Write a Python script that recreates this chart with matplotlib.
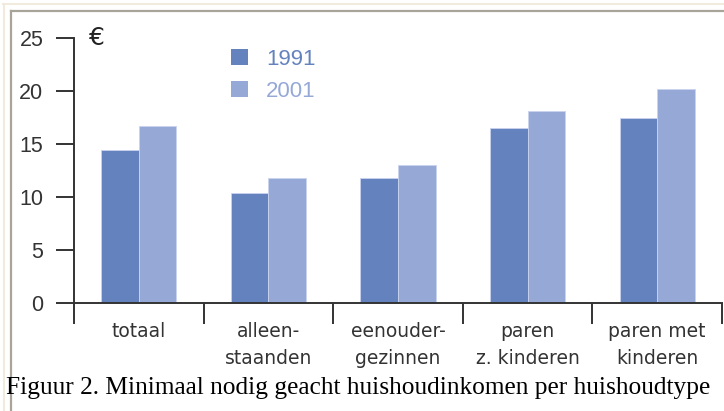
import matplotlib
matplotlib.use("Agg")
import matplotlib.pyplot as plt
from matplotlib.lines import Line2D
import numpy as np

categories = ["totaal", "alleen-\nstaanden", "eenouder-\ngezinnen", "paren\nz. kinderen", "paren met\nkinderen"]
values_1991 = [14.4, 10.4, 11.8, 16.5, 17.4]
values_2001 = [16.7, 11.8, 13.0, 18.1, 20.2]
series_names = ["1991", "2001"]
yticks = [0, 5, 10, 15, 20, 25]
caption = "Figuur 2. Minimaal nodig geacht huishoudinkomen per huishoudtype"

c1991 = "#6482be"
c2001 = "#95a8d6"
edge = "#c9d3ee"
dark = "#333333"

fig = plt.figure(figsize=(7.24, 4.11), dpi=100)
fig.patch.set_facecolor("white")

# frame lines (top and left only)
fig.add_artist(Line2D([0.004, 1.0], [1 - 4.5/411, 1 - 4.5/411], transform=fig.transFigure, color="#f0ebdc", lw=1.5))
fig.add_artist(Line2D([0.0055, 0.0055], [0, 1 - 4.5/411], transform=fig.transFigure, color="#f0ebdc", lw=1.5))
fig.add_artist(Line2D([11/724, 1.0], [1 - 11/411, 1 - 11/411], transform=fig.transFigure, color="#a8a49a", lw=1.6))
fig.add_artist(Line2D([11/724, 11/724], [0, 1 - 11/411], transform=fig.transFigure, color="#a8a49a", lw=1.6))

ax = fig.add_axes([74/724, 1 - 302.7/411, (722 - 74)/724, (302.7 - 38)/411])
x = np.arange(len(categories))
w = 0.29
ax.bar(x - w/2, values_1991, width=w, color=c1991, edgecolor=edge, linewidth=0.6, label=series_names[0])
ax.bar(x + w/2, values_2001, width=w, color=c2001, edgecolor=edge, linewidth=0.6, label=series_names[1])

ax.set_xlim(-0.5, len(categories) - 0.5)
ax.set_ylim(0, 25)
ax.set_yticks(yticks)
ax.set_yticklabels([str(t) for t in yticks])
ax.set_xticks(np.arange(len(categories) + 1) - 0.5)
ax.set_xticklabels([])
ax.set_xticks(x, minor=True)
ax.set_xticklabels(categories, minor=True)

for s in ["top", "right"]:
    ax.spines[s].set_visible(False)
for s in ["left", "bottom"]:
    ax.spines[s].set_color(dark)
    ax.spines[s].set_linewidth(1.4)

ax.tick_params(axis="y", direction="out", length=13, width=1.4, color=dark, labelsize=15.5, labelcolor=dark, pad=9)
ax.tick_params(axis="x", which="major", direction="out", length=15, width=1.4, color=dark)
ax.tick_params(axis="x", which="minor", length=0, labelsize=13.5, labelcolor=dark, pad=14)
for lbl in ax.get_yticklabels():
    lbl.set_family("Liberation Sans")
for lbl in ax.get_xticklabels(minor=True):
    lbl.set_family("DejaVu Sans")
    lbl.set_linespacing(1.5)

ax.text(89/724, 1 - 38/411, "€", transform=fig.transFigure, fontsize=18, color="#222222",
        family="DejaVu Sans", va="center", ha="left")

# legend
leg = ax.legend(loc="upper left", bbox_to_anchor=(0.212, 1.035), frameon=False,
                handlelength=0.75, handleheight=0.75, handletextpad=0.8, labelspacing=0.5,
                prop={"family": "Liberation Sans", "size": 16})
for t, c in zip(leg.get_texts(), [c1991, c2001]):
    t.set_color(c)
for h in leg.legend_handles:
    h.set_edgecolor("none")

fig.text(6/724, 1 - 388/411, caption, fontsize=18.3, family="Liberation Serif", color="black",
         va="center", ha="left")

fig.savefig("out.png", dpi=100)
